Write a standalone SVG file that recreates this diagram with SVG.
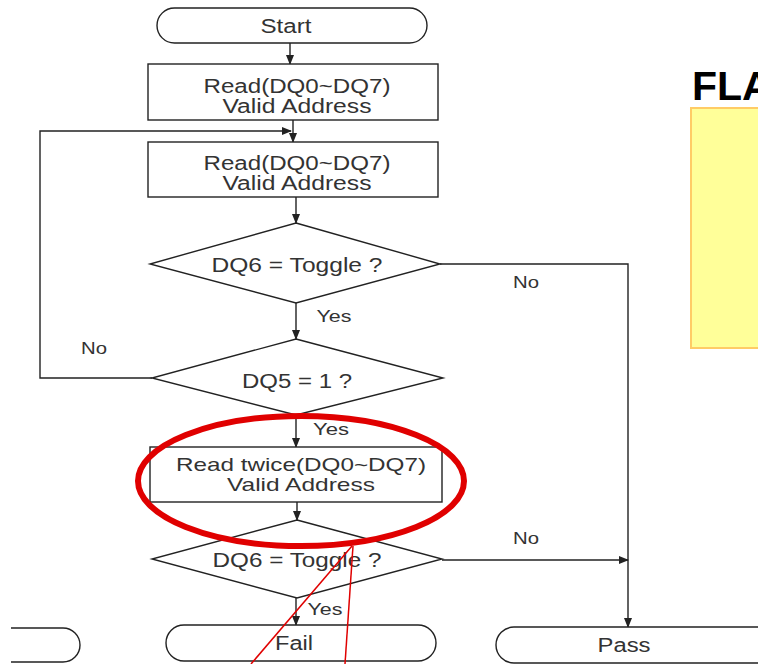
<svg xmlns="http://www.w3.org/2000/svg" width="758" height="664" viewBox="0 0 758 664">
<defs>
<marker id="arr" markerWidth="10" markerHeight="8" refX="9" refY="4" orient="auto" markerUnits="userSpaceOnUse">
<path d="M0,0 L10,4 L0,8 Z" fill="#222"/>
</marker>
<style>
.shape{fill:#fff;stroke:#222;stroke-width:1.4}
.conn{fill:none;stroke:#222;stroke-width:1.4}
.t{font-family:"Liberation Sans",Arial,sans-serif;font-size:20px;fill:#333;text-anchor:middle}
.lbl{font-family:"Liberation Sans",Arial,sans-serif;font-size:17px;fill:#333;text-anchor:middle}
</style>
</defs>
<rect x="0" y="0" width="758" height="664" fill="#fff"/>

<g id="title">
<text x="692" y="100" font-family="'Liberation Sans',Arial,sans-serif" font-weight="bold" font-size="41" fill="#000">FLA</text>
<rect x="691" y="108" width="80" height="240" fill="#ffff99" stroke="#ffcc66" stroke-width="2"/>
</g>

<g id="connectors">
<line class="conn" x1="290" y1="43" x2="290" y2="64" marker-end="url(#arr)"/>
<line class="conn" x1="293" y1="120" x2="293" y2="142" marker-end="url(#arr)"/>
<line class="conn" x1="296" y1="197" x2="296" y2="223" marker-end="url(#arr)"/>
<line class="conn" x1="296" y1="303" x2="296" y2="339" marker-end="url(#arr)"/>
<polyline class="conn" points="152,378 40,378 40,131 291,131" marker-end="url(#arr)"/>
<polyline class="conn" points="440,264 628,264 628,627" marker-end="url(#arr)"/>
<line class="conn" x1="296" y1="415" x2="296" y2="447" marker-end="url(#arr)"/>
<line class="conn" x1="297" y1="502" x2="297" y2="520" marker-end="url(#arr)"/>
<line class="conn" x1="442" y1="560" x2="628" y2="560" marker-end="url(#arr)"/>
<line class="conn" x1="296" y1="598" x2="296" y2="625" marker-end="url(#arr)"/>
<text class="lbl" x="334" y="322" textLength="35" lengthAdjust="spacingAndGlyphs">Yes</text>
<text class="lbl" x="94" y="354" textLength="26" lengthAdjust="spacingAndGlyphs">No</text>
<text class="lbl" x="526" y="288" textLength="26" lengthAdjust="spacingAndGlyphs">No</text>
<text class="lbl" x="331" y="435" textLength="36" lengthAdjust="spacingAndGlyphs">Yes</text>
<text class="lbl" x="526" y="544" textLength="26" lengthAdjust="spacingAndGlyphs">No</text>
<text class="lbl" x="325" y="615" textLength="35" lengthAdjust="spacingAndGlyphs">Yes</text>
</g>

<g id="start">
<rect class="shape" x="157" y="8" width="270" height="35" rx="17.5"/>
<text class="t" x="286" y="33" textLength="51" lengthAdjust="spacingAndGlyphs">Start</text>
</g>

<g id="read1">
<rect class="shape" x="148" y="64" width="290" height="56"/>
<text class="t" x="297" y="93" textLength="187" lengthAdjust="spacingAndGlyphs">Read(DQ0~DQ7)</text>
<text class="t" x="297" y="113" textLength="149" lengthAdjust="spacingAndGlyphs">Valid Address</text>
</g>

<g id="read2">
<rect class="shape" x="148" y="142" width="290" height="55"/>
<text class="t" x="297" y="170" textLength="187" lengthAdjust="spacingAndGlyphs">Read(DQ0~DQ7)</text>
<text class="t" x="297" y="190" textLength="149" lengthAdjust="spacingAndGlyphs">Valid Address</text>
</g>

<g id="dq6a">
<polygon class="shape" points="296,223 440,264 296,303 150,264"/>
<text class="t" x="297" y="272" textLength="171" lengthAdjust="spacingAndGlyphs">DQ6 = Toggle ?</text>
</g>

<g id="dq5">
<polygon class="shape" points="296,339 443,378 296,415 152,378"/>
<text class="t" x="297" y="388" textLength="110" lengthAdjust="spacingAndGlyphs">DQ5 = 1 ?</text>
</g>

<g id="readtwice">
<rect class="shape" x="150" y="447" width="292" height="55"/>
<text class="t" x="301" y="471" font-size="19" style="font-size:19px" textLength="250" lengthAdjust="spacingAndGlyphs">Read twice(DQ0~DQ7)</text>
<text class="t" x="301" y="491" font-size="19" style="font-size:19px" textLength="148" lengthAdjust="spacingAndGlyphs">Valid Address</text>
</g>

<g id="dq6b">
<polygon class="shape" points="297,520 442,559 297,598 152,559"/>
<text class="t" x="297" y="567" textLength="169" lengthAdjust="spacingAndGlyphs">DQ6 = Toggle ?</text>
</g>

<g id="fail">
<rect class="shape" x="166" y="625" width="270" height="36" rx="18"/>
<text class="t" x="294" y="650" textLength="38" lengthAdjust="spacingAndGlyphs">Fail</text>
</g>

<g id="pass">
<rect class="shape" x="496" y="627" width="290" height="36" rx="18"/>
<text class="t" x="624" y="652" textLength="53" lengthAdjust="spacingAndGlyphs">Pass</text>
</g>

<g id="leftterm">
<path class="shape" d="M11,628 H63 A17,17 0 0 1 63,662 H11"/>
</g>

<g id="highlight">
<ellipse cx="301" cy="481" rx="163" ry="65" fill="none" stroke="#e00000" stroke-width="6"/>
<line x1="352" y1="546" x2="251" y2="664" stroke="#e00000" stroke-width="1.5"/>
<line x1="353" y1="546" x2="345" y2="664" stroke="#e00000" stroke-width="1.5"/>
</g>
</svg>
